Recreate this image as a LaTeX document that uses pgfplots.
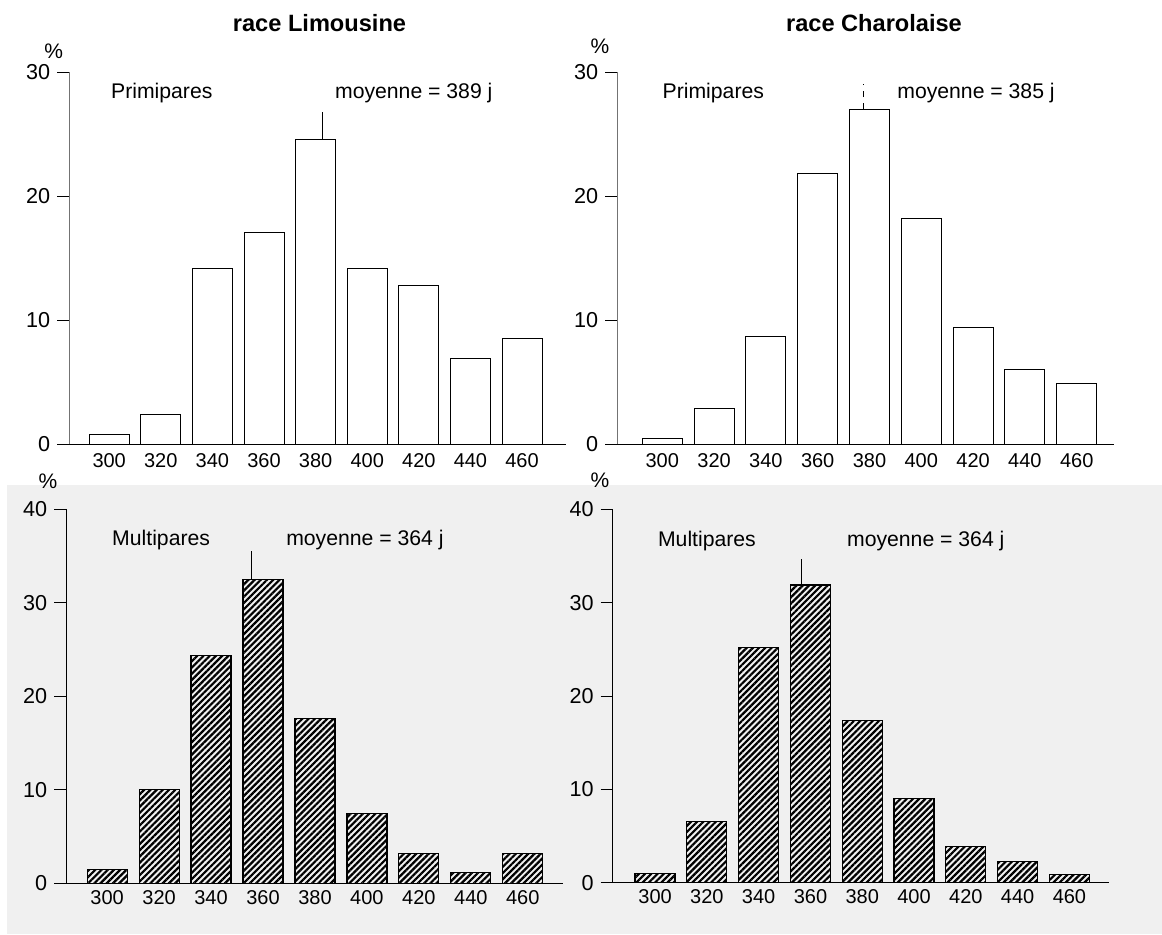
\documentclass[border=0pt]{standalone}
\usepackage{fontspec}
\setmainfont{Liberation Sans}
\usepackage{pgfplots}
\pgfplotsset{compat=1.18}
\usetikzlibrary{patterns.meta}

\pgfplotsset{
 panel/.style={
  scale only axis,
  anchor=south west,
  axis x line=bottom, axis y line=left,
  axis line style={-, line width=0.5pt},
  xtick={0,...,8},
  xticklabels={300,320,340,360,380,400,420,440,460},
  x tick style={draw=none},
  y tick style={black, line width=0.5pt},
  tick align=outside,
  major tick length=6pt,
  ymin=0,
  /pgf/number format/assume math mode=true,
  x tick label style={font=\fontsize{10}{11}\selectfont},
  y tick label style={font=\fontsize{10.8}{12}\selectfont},
  clip=false,
 },
 topbar/.style={ybar, bar width=20pt, draw=black, fill=white, line width=0.5pt},
 botbar/.style={ybar, bar width=20pt, draw=black, line width=0.6pt,
   pattern={Lines[angle=45, distance=2.2pt, line width=1.1pt]}},
}
\newcommand{\lab}{\fontsize{10.6}{12}\selectfont}

\begin{document}
\begin{tikzpicture}
\useasboundingbox (0,0) rectangle (581pt,-467pt);
\fill[black!6] (3.5pt,-242.5pt) rectangle (581pt,-467pt);

% titles
\node[anchor=base, font=\fontsize{11.8}{14}\selectfont\bfseries] at (159.75pt,-15.85pt) {race Limousine};
\node[anchor=base, font=\fontsize{11.8}{14}\selectfont\bfseries] at (437pt,-15.85pt) {race Charolaise};
% percent signs
\node[font=\fontsize{10.5}{12}\selectfont] at (26.8pt,-25.85pt) {\%};
\node[font=\fontsize{10.5}{12}\selectfont] at (300pt,-23.35pt) {\%};
\node[font=\fontsize{10.5}{12}\selectfont] at (24pt,-240.85pt) {\%};
\node[font=\fontsize{10.5}{12}\selectfont] at (300pt,-240pt) {\%};

% Top-left: Limousine primipares
\begin{axis}[panel, at={(34.6pt,-222.15pt)}, width=248.35pt, height=186.15pt,
  xmin=-0.775, xmax=8.85, ymax=30, ytick={0,10,20,30},
  y axis line style={black!55}, x tick label style={yshift=5pt}]
\addplot[topbar] coordinates {(0,0.8) (1,2.4) (2,14.2) (3,17.1) (4,24.6) (5,14.2) (6,12.8) (7,6.9) (8,8.5)};
\addplot[black, line width=0.5pt, no marks] coordinates {(4.13,24.6) (4.13,26.8)};
\node[anchor=base west, inner sep=0pt, font=\lab] at (axis cs:0.03,27.87) {Primipares};
\node[anchor=base west, inner sep=0pt, font=\lab] at (axis cs:4.37,27.87) {moyenne = 389 j};
\end{axis}

% Top-right: Charolaise primipares
\begin{axis}[panel, at={(308.6pt,-222.15pt)}, width=248.4pt, height=186.15pt,
  xmin=-0.87, xmax=8.72, ymax=30, ytick={0,10,20,30},
  y axis line style={black!55}, x tick label style={yshift=5pt}]
\addplot[topbar] coordinates {(0,0.5) (1,2.9) (2,8.7) (3,21.8) (4,27.0) (5,18.2) (6,9.4) (7,6.0) (8,4.9)};
\addplot[black, line width=0.5pt, dashed, no marks] coordinates {(3.89,27.0) (3.89,29.0)};
\node[anchor=base west, inner sep=0pt, font=\lab] at (axis cs:0.0,27.87) {Primipares};
\node[anchor=base west, inner sep=0pt, font=\lab] at (axis cs:4.53,27.87) {moyenne = 385 j};
\end{axis}

% Bottom-left: Limousine multipares
\begin{axis}[panel, at={(33.05pt,-441.65pt)}, width=248.6pt, height=187pt,
  xmin=-0.79, xmax=8.78, ymax=40, ytick={0,10,20,30,40},
  x tick label style={yshift=6pt}]
\addplot[botbar] coordinates {(0,1.5) (1,10.0) (2,24.4) (3,32.5) (4,17.6) (5,7.5) (6,3.2) (7,1.2) (8,3.2)};
\addplot[black, line width=0.5pt, no marks] coordinates {(2.78,32.5) (2.78,35.5)};
\node[anchor=base west, inner sep=0pt, font=\lab] at (axis cs:0.09,36.1) {Multipares};
\node[anchor=base west, inner sep=0pt, font=\lab] at (axis cs:3.44,36.1) {moyenne = 364 j};
\end{axis}

% Bottom-right: Charolaise multipares
\begin{axis}[panel, at={(306.3pt,-441.35pt)}, width=248.1pt, height=186.7pt,
  xmin=-0.82, xmax=8.76, ymax=40, ytick={0,10,20,30,40},
  x tick label style={yshift=6pt}]
\addplot[botbar] coordinates {(0,1.0) (1,6.6) (2,25.2) (3,31.9) (4,17.4) (5,9.0) (6,3.9) (7,2.3) (8,0.9)};
\addplot[black, line width=0.5pt, no marks] coordinates {(2.82,31.9) (2.82,34.7)};
\node[anchor=base west, inner sep=0pt, font=\lab] at (axis cs:0.05,36.0) {Multipares};
\node[anchor=base west, inner sep=0pt, font=\lab] at (axis cs:3.7,36.0) {moyenne = 364 j};
\end{axis}
\end{tikzpicture}
\end{document}
